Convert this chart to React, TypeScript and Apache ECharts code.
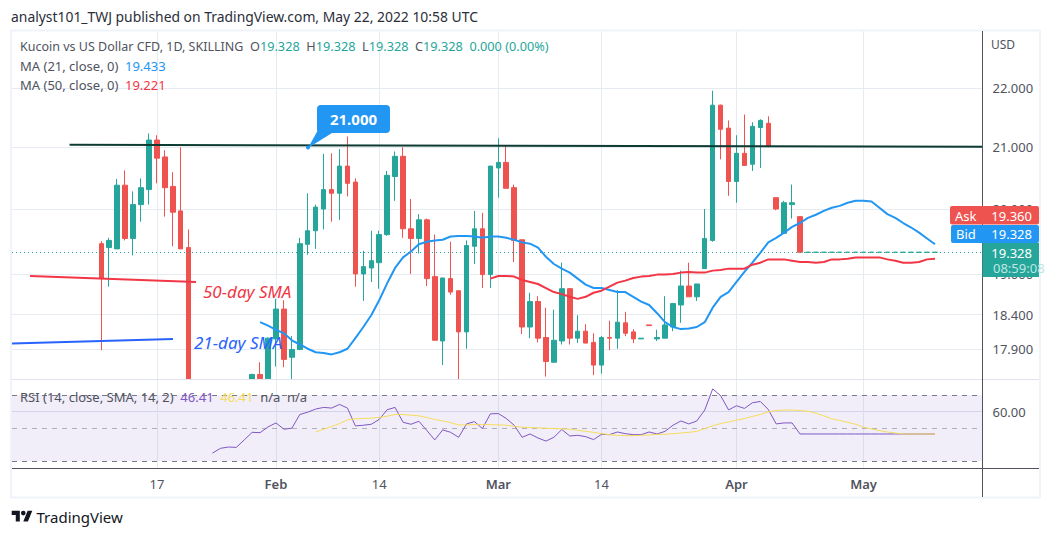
import React, { useEffect, useRef } from "react";
import * as echarts from "echarts";

const FONT = "'Noto Sans', sans-serif";

// Bars: [open, close, low, high]
const D = [19.328, 19.328, 19.328, 19.328];
const candles: (number[] | null)[] = [
  null, null, null, null, null, null, null, null, null, null, null,
  [19.46, 18.94, 17.89, 19.5], [19.4, 19.51, 18.81, 19.55], [19.38, 20.38, 19.38, 20.48], [20.38, 19.54, 19.51, 20.62],
  [19.54, 20.07, 19.28, 20.28], [20.07, 20.34, 19.8, 20.49], [20.31, 21.12, 20.07, 21.23], [21.12, 20.82, 20.41, 21.2],
  [20.84, 20.34, 19.88, 20.95], [20.36, 19.95, 19.42, 20.59], [19.97, 19.38, 19.38, 21.0], [19.4, 17.48, 17.48, 19.68],
  null, null, null, null, null, null, null,
  [17.48, 17.55, 17.48, 17.56], [17.55, 17.49, 17.48, 17.72], [17.49, 18.06, 17.49, 18.07], [18.05, 18.48, 17.66, 18.63],
  [18.48, 17.76, 17.65, 18.61], [17.79, 17.9, 17.48, 18.09], [17.9, 19.46, 17.89, 19.55], [19.45, 19.66, 19.29, 20.25],
  [19.66, 20.03, 19.38, 20.07], [20.0, 20.31, 19.68, 20.89], [20.31, 20.25, 19.8, 20.9], [20.25, 20.69, 19.83, 20.97],
  [20.69, 20.41, 20.2, 21.18], [20.43, 19.0, 18.81, 20.49], [19.0, 19.11, 18.6, 19.35], [19.09, 19.2, 18.88, 19.66],
  [19.17, 19.6, 18.78, 19.66], [19.6, 20.54, 19.58, 20.61], [20.52, 20.85, 20.13, 20.93], [20.85, 19.69, 19.55, 21.0],
  [19.69, 19.54, 19.0, 20.16], [19.54, 19.83, 19.31, 19.92], [19.83, 18.93, 18.82, 19.85], [18.96, 18.03, 18.03, 19.6],
  [18.02, 18.94, 17.68, 18.94], [18.93, 18.73, 18.69, 19.49], [18.75, 18.15, 17.48, 18.75], [18.15, 19.43, 17.91, 19.51],
  [19.42, 19.69, 19.15, 19.97], [19.69, 18.99, 18.79, 19.94], [18.99, 20.69, 18.79, 20.69], [20.66, 20.75, 20.18, 21.15],
  [20.75, 20.33, 20.33, 21.02], [20.34, 19.51, 19.18, 20.39], [19.52, 18.22, 18.12, 19.52], [18.22, 18.59, 18.06, 18.72],
  [18.59, 18.06, 18.0, 18.67], [18.07, 17.73, 17.52, 18.5], [17.72, 18.03, 17.72, 18.47], [18.02, 18.78, 17.97, 19.17],
  [18.78, 18.06, 17.97, 18.79], [18.06, 18.16, 17.99, 18.39], [18.16, 17.99, 17.99, 18.26], [18.0, 17.68, 17.54, 18.13],
  [17.68, 18.07, 17.56, 18.09], [18.07, 18.06, 17.89, 18.31], [18.06, 18.29, 17.91, 18.76], [18.28, 18.13, 18.09, 18.44],
  [18.15, 18.05, 17.99, 18.19], [18.05, 18.06, 18.05, 18.06], [18.25, 18.24, 18.24, 18.25], [18.05, 18.07, 18.02, 18.18],
  [18.06, 18.25, 18.06, 18.67], [18.22, 18.56, 18.16, 18.57], [18.54, 18.82, 18.28, 19.05], [18.82, 18.66, 18.66, 19.17],
  [18.66, 18.85, 18.6, 18.85], [19.08, 19.54, 19.08, 20.0], [19.51, 21.71, 19.49, 21.96], [21.71, 21.3, 20.8, 21.72],
  [21.32, 20.44, 20.21, 21.45], [20.44, 20.9, 20.1, 21.2], [20.9, 20.7, 20.7, 21.55], [20.72, 21.35, 20.61, 21.42],
  [21.33, 21.45, 20.66, 21.47], [21.4, 21.02, 21.0, 21.52], [20.18, 20.0, 19.98, 20.18], [19.62, 20.1, 19.62, 20.13],
  [20.07, 20.1, 19.85, 20.39], [19.88, 19.328, 19.328, 19.88],
  D, D, D, D, D, D, D, D, D, D, D, D, D, D, D, D, D,
];

const ma21Start = 31;
const ma21 = [
  18.29, 18.24, 18.18, 18.13, 18.03, 17.97, 17.91, 17.86, 17.85, 17.83, 17.86, 17.91, 18.06, 18.22, 18.39, 18.61, 18.86, 19.09,
  19.25, 19.34, 19.45, 19.49, 19.51, 19.52, 19.57, 19.58, 19.58, 19.57, 19.55, 19.57, 19.57, 19.55, 19.52, 19.48, 19.46, 19.4,
  19.26, 19.15, 19.08, 19.02, 18.93, 18.84, 18.79, 18.79, 18.76, 18.73, 18.73, 18.66, 18.59, 18.54, 18.42, 18.29, 18.22, 18.19,
  18.2, 18.22, 18.29, 18.5, 18.66, 18.73, 18.88, 19.03, 19.17, 19.32, 19.48, 19.55, 19.63, 19.72, 19.78, 19.86, 19.91, 19.97,
  20.02, 20.05, 20.1, 20.13, 20.13, 20.12, 20.02, 19.92, 19.86, 19.78, 19.71, 19.63, 19.54, 19.45,
];
const ma50Start = 60;
const ma50 = [
  18.93, 18.97, 18.97, 18.96, 18.91, 18.88, 18.85, 18.79, 18.73, 18.7, 18.66, 18.63, 18.66, 18.72, 18.75, 18.81, 18.87, 18.9,
  18.94, 18.96, 18.97, 18.99, 18.99, 19.0, 19.02, 19.03, 19.02, 19.02, 19.05, 19.06, 19.08, 19.08, 19.08, 19.14, 19.17, 19.22,
  19.22, 19.22, 19.2, 19.18, 19.18, 19.17, 19.18, 19.22, 19.22, 19.23, 19.25, 19.25, 19.25, 19.25, 19.22, 19.2, 19.17, 19.17,
  19.18, 19.22, 19.23,
];
const rsiStart = 25;
const rsi = [
  34.8, 37.7, 38.5, 38.3, 42.8, 47.4, 47.2, 50.7, 53.1, 49.3, 49.9, 58.2, 59.6, 61.5, 62.5, 62.1, 64.3, 62.1, 51.3, 51.7, 52.3,
  55.2, 61.1, 62.5, 53.5, 52.3, 54.1, 48.5, 42.8, 48.9, 47.4, 44.4, 52.5, 53.9, 49.7, 58.6, 58.8,
  55.8, 51.7, 44.4, 46.4, 44.0, 42.1, 44.4, 49.1, 45.2, 45.6, 44.8, 43.0, 46.2, 46.0, 47.6, 46.6, 46.0, 46.0, 47.6, 46.4, 48.0,
  51.7, 54.3, 52.5, 54.3, 60.9, 73.7, 69.6, 61.0, 63.5, 61.9, 65.3, 66.1, 61.3, 52.5, 53.1, 53.1,
  46.41, 46.41, 46.41, 46.41, 46.41, 46.41, 46.41, 46.41, 46.41, 46.41, 46.41, 46.41, 46.41, 46.41, 46.41, 46.41, 46.41, 46.41,
];
const rsiSmaStart = 38;
const rsiSma = [
  47.6, 49.3, 50.9, 52.7, 55, 55.6, 55.8, 56, 56.4, 57.2, 58.2, 58.2, 57.8, 57.4, 56.4, 55.2, 54.3, 53.3, 51.9, 51.9, 52.1, 52.1,
  52.1, 51.9, 51.7, 51.1, 50.5, 50.3, 50.1, 49.9, 49.7, 49.5, 49.3, 48.7, 48, 47.4, 46.6, 46, 45.6, 45.4, 45.4, 45.6, 45.8, 46.2,
  46.2, 46.6, 47, 47.4, 48, 49.7, 51.3, 52.7, 53.7, 54.8, 55.8, 57, 58.2, 59.8, 60.6, 60.9, 60.9, 60.6, 60.2, 59, 57.4, 55.6, 54.6,
  53.5, 52.3, 50.5, 49.5, 48.5, 47.6, 47, 46.41, 46.41, 46.41, 46.41, 46.41,
];

const resistanceStart = 7;
const resistanceEnd = 122;
const resistanceValues = [21.04, 21.01];

const barCount = 123;
const timeTickIndex = [18, 33, 46, 61, 74, 91, 107];
const timeTickLabels = ["17", "Feb", "14", "Mar", "14", "Apr", "May"];
const priceTicks = [22, 21, 20, 19, 18.4, 17.9];
const rsiTicks = [60];
const rsiLevels = [70, 50, 30];
const lastPrice = 19.328;

const categories = Array.from({ length: barCount }, (_, i) => {
  const k = timeTickIndex.indexOf(i);
  return k >= 0 ? timeTickLabels[k] : "b" + i;
});
const pad = (start: number, vals: number[]) => {
  const out: (number | null)[] = new Array(barCount).fill(null);
  vals.forEach((v, i) => (out[start + i] = v));
  return out;
};
const resistance: (number | null)[] = new Array(barCount).fill(null);
resistance[resistanceStart] = resistanceValues[0];
resistance[resistanceEnd] = resistanceValues[1];

const isTime = (i: number) => timeTickIndex.includes(i);
const GRID = "#e6ebf1";
const TXT = "#50535e";
const G = "#26a69a";
const R = "#ef5350";
const BLUE = "#2196f3";
const RED = "#f23645";

const txt = (text: string, x: number, y: number, style: any = {}) => ({
  type: "text", x, y, z: 100, silent: true,
  style: { text, font: `13px ${FONT}`, fill: TXT, verticalAlign: "middle", ...style },
});
const ln = (x1: number, y1: number, x2: number, y2: number, stroke: string, lineWidth = 1, z = 100) => ({
  type: "line", z, silent: true, shape: { x1, y1, x2, y2 }, style: { stroke, lineWidth },
});
const rr = (x: number, y: number, width: number, height: number, fill: string, r = 2) => ({
  type: "rect", z: 100, silent: true, shape: { x, y, width, height, r }, style: { fill },
});

echarts.graphic.registerShape(
  "tvlogo",
  echarts.graphic.extendPath("M14 22H7V11H0V4h14v18zM28 22h-8l7.5-18h8L28 22zM24 8a4 4 0 1 1-8 0 4 4 0 0 1 8 0z", {})
);

const candleLeft = 10;
const candleWidth = 976.6;
const paneLeft = 12;
const paneWidth = 970.5;

export default function App() {
  const ref = useRef<HTMLDivElement>(null);
  useEffect(() => {
    const chart = echarts.init(ref.current!, undefined, { renderer: "svg" });
    const hiddenX = {
      type: "category", data: categories, boundaryGap: true,
      axisLine: { show: false }, axisTick: { show: false },
    };
    const vSplit = {
      show: true, alignWithLabel: true, interval: (i: number) => isTime(i),
      lineStyle: { color: GRID, width: 1 },
    };
    chart.setOption({
      animation: false,
      backgroundColor: "#fff",
      textStyle: { fontFamily: FONT },
      grid: [
        { left: candleLeft, width: candleWidth, top: 31, height: 348.5 },
        { left: candleLeft, width: candleWidth, top: 380, height: 88.5 },
        { left: paneLeft, width: paneWidth, top: 31, height: 348.5 },
        { left: paneLeft, width: paneWidth, top: 380, height: 88.5 },
      ],
      xAxis: [
        { ...hiddenX, gridIndex: 0, axisLabel: { show: false, interval: (i: number) => isTime(i) }, splitLine: vSplit },
        {
          ...hiddenX, gridIndex: 1, splitLine: vSplit,
          axisLabel: {
            show: true, interval: (i: number) => isTime(i), margin: 9,
            formatter: (v: string) => (/^[A-Z]/.test(v) ? `{m|${v}}` : `{d|${v}}`),
            rich: {
              m: { fontSize: 13, fontWeight: 600, color: TXT, fontFamily: FONT },
              d: { fontSize: 13, color: TXT, fontFamily: FONT },
            },
          },
        },
        { type: "value", gridIndex: 2, min: 0, max: 1, show: false },
        { type: "value", gridIndex: 3, min: 0, max: 1, show: false },
      ],
      yAxis: [
        { type: "log", gridIndex: 0, min: 17.48, max: 23.02, show: false, splitLine: { show: false } },
        { type: "value", gridIndex: 1, min: 25.5, max: 79.1, show: false, splitLine: { show: false } },
        {
          type: "log", gridIndex: 2, min: 17.48, max: 23.02, position: "right",
          axisLine: { show: false }, axisTick: { show: false, customValues: priceTicks },
          axisLabel: { customValues: priceTicks, formatter: (v: number) => v.toFixed(3), color: TXT, fontSize: 13, margin: 10, fontFamily: FONT },
          splitLine: { show: true, lineStyle: { color: GRID, width: 1 } },
        },
        {
          type: "value", gridIndex: 3, min: 25.5, max: 79.1, position: "right",
          axisLine: { show: false }, axisTick: { show: false, customValues: rsiTicks },
          axisLabel: { customValues: rsiTicks, formatter: (v: number) => v.toFixed(2), color: TXT, fontSize: 13, margin: 10, fontFamily: FONT },
          splitLine: { show: true, lineStyle: { color: "#dde2ef", width: 1 } },
        },
      ],
      series: [
        {
          type: "line", name: "Last price", xAxisIndex: 2, yAxisIndex: 2, data: [[0, lastPrice]], symbol: "none", silent: true, z: 1,
          markLine: {
            silent: true, symbol: "none", label: { show: false },
            lineStyle: { color: G, type: [1, 3], width: 1 }, data: [{ yAxis: lastPrice }],
          },
        },
        {
          type: "line", name: "RSI levels", xAxisIndex: 3, yAxisIndex: 3, data: [[0, 50]], symbol: "none", silent: true, z: 1,
          lineStyle: { opacity: 0 },
          markArea: {
            silent: true, itemStyle: { color: "rgba(126,87,194,0.1)" },
            data: [[{ yAxis: rsiLevels[0] }, { yAxis: rsiLevels[2] }]],
          },
          markLine: {
            silent: true, symbol: "none", label: { show: false },
            lineStyle: { color: "#787b86", type: [5, 5], width: 1 },
            data: [
              { yAxis: rsiLevels[0] },
              { yAxis: rsiLevels[1], lineStyle: { color: "rgba(120,123,134,0.55)" } },
              { yAxis: rsiLevels[2] },
            ],
          },
        },
        {
          type: "candlestick", name: "KCS", xAxisIndex: 0, yAxisIndex: 0, barWidth: 5, clip: true, z: 3,
          data: candles.map((c) => c ?? ["-", "-", "-", "-"]),
          itemStyle: { color: G, color0: R, borderColor: G, borderColor0: R, borderWidth: 1 },
        },
        {
          type: "line", name: "MA 21", xAxisIndex: 0, yAxisIndex: 0, data: pad(ma21Start, ma21), symbol: "none", z: 4,
          lineStyle: { color: BLUE, width: 2 },
        },
        {
          type: "line", name: "MA 50", xAxisIndex: 0, yAxisIndex: 0, data: pad(ma50Start, ma50), symbol: "none", z: 4,
          lineStyle: { color: RED, width: 2 },
        },
        {
          type: "line", name: "Resistance", xAxisIndex: 0, yAxisIndex: 0, data: resistance, connectNulls: true, symbol: "none", z: 5,
          lineStyle: { color: "#0d3b32", width: 2 },
        },
        {
          type: "line", name: "RSI", xAxisIndex: 1, yAxisIndex: 1, data: pad(rsiStart, rsi), symbol: "none", z: 4,
          lineStyle: { color: "#7e57c2", width: 1 },
        },
        {
          type: "line", name: "RSI SMA", xAxisIndex: 1, yAxisIndex: 1, data: pad(rsiSmaStart, rsiSma), symbol: "none", z: 5,
          lineStyle: { color: "#f5dc5a", width: 1 },
        },
      ],
      graphic: {
        elements: [
          txt("analyst101_TWJ published on TradingView.com, May 22, 2022 10:58 UTC", 11, 16, { fill: "#2a2e39", font: `13.9px ${FONT}` }),
          {
            type: "rect", z: 99, silent: true, shape: { x: 11, y: 30.5, width: 1029, height: 467 },
            style: { fill: "none", stroke: "#f0f3fa", lineWidth: 2 },
          },
          ln(12, 379.5, 1039, 379.5, "#e0e3eb"),
          ln(12, 468.5, 1039, 468.5, TXT),
          ln(982.5, 31, 982.5, 497, TXT),
          txt("USD", 991, 44, { fill: TXT, font: `12px ${FONT}` }),
          {
            type: "text", x: 20, y: 46, z: 100, silent: true,
            style: {
              text: "{t|Kucoin vs US Dollar CFD, 1D, SKILLING}  {g|O}{v|19.328}  {g|H}{v|19.328}  {g|L}{v|19.328}  {g|C}{v|19.328}  {v|0.000 (0.00%)}",
              verticalAlign: "middle",
              rich: {
                t: { fill: TXT, font: `12.5px ${FONT}` },
                g: { fill: TXT, font: `12.7px ${FONT}` },
                v: { fill: G, font: `12.7px ${FONT}` },
              },
            },
          },
          {
            type: "text", x: 20, y: 65.5, z: 100, silent: true,
            style: {
              text: "{g|MA (21, close, 0)}  {v|19.433}", verticalAlign: "middle",
              rich: { g: { fill: TXT, font: `13px ${FONT}` }, v: { fill: BLUE, font: `13px ${FONT}` } },
            },
          },
          {
            type: "text", x: 20, y: 84.5, z: 100, silent: true,
            style: {
              text: "{g|MA (50, close, 0)}  {v|19.221}", verticalAlign: "middle",
              rich: { g: { fill: TXT, font: `13px ${FONT}` }, v: { fill: RED, font: `13px ${FONT}` } },
            },
          },
          {
            type: "text", x: 20, y: 397, z: 100, silent: true,
            style: {
              text: "{g|RSI (14, close, SMA, 14, 2)}  {p|46.41}  {y|46.41}  {g|n/a}  {g|n/a}", verticalAlign: "middle",
              rich: {
                g: { fill: TXT, font: `13px ${FONT}` },
                p: { fill: "#7e57c2", font: `13px ${FONT}` },
                y: { fill: "#f5dc5a", font: `13px ${FONT}` },
              },
            },
          },
          rr(317, 105, 73, 28, BLUE, 4),
          {
            type: "polygon", z: 100, silent: true,
            shape: { points: [[318, 130], [332, 133], [308, 148]] }, style: { fill: BLUE },
          },
          { type: "circle", z: 100, silent: true, shape: { cx: 308, cy: 147.5, r: 2 }, style: { fill: BLUE } },
          txt("21.000", 353.5, 119, { fill: "#fff", font: `bold 15px ${FONT}`, align: "center" }),
          ln(30, 276, 196, 282, RED, 2),
          ln(12, 343.5, 173, 339, "#2962ff", 2),
          txt("50-day SMA", 203, 291, { fill: RED, font: `italic 17px ${FONT}` }),
          txt("21-day SMA", 194, 342, { fill: "#2962ff", font: `italic 17px ${FONT}` }),
          rr(950, 206, 89, 18.5, R),
          txt("Ask", 955, 215.5, { fill: "#fff" }),
          txt("19.360", 1032, 215.5, { fill: "#fff", align: "right" }),
          rr(951, 225, 88, 18, BLUE),
          txt("Bid", 956, 234, { fill: "#fff" }),
          txt("19.328", 1032, 234, { fill: "#fff", align: "right" }),
          rr(982.5, 243, 56.5, 34, G, 0),
          txt("19.328", 1032, 252.5, { fill: "#fff", align: "right" }),
          txt("08:59:08", 993, 267.5, { fill: "#bfe6e2" }),
          {
            type: "tvlogo", x: 11.7, y: 508.3, scaleX: 0.58, scaleY: 0.6, z: 100, silent: true,
            style: { fill: "#131722" },
          },
          txt("TradingView", 36.5, 517, { fill: "#131722", font: `15px ${FONT}` }),
        ],
      },
    });
    return () => chart.dispose();
  }, []);
  return <div ref={ref} style={{ position: "absolute", left: 0, top: 0, width: 1051, height: 536 }} />;
}
